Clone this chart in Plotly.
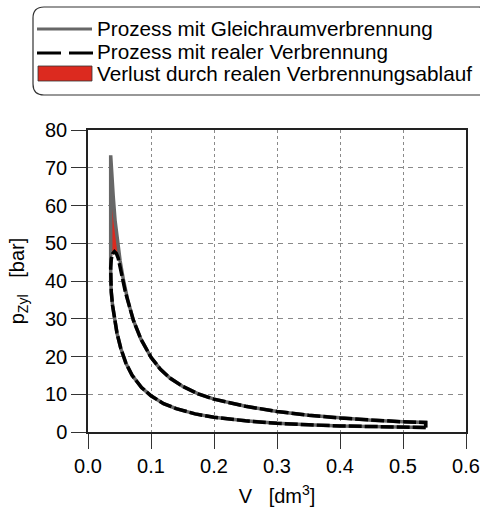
import plotly.graph_objects as go

# ---- data ----
# compression (shared by both processes), from BDC to TDC
comp_V = [0.536, 0.50, 0.45, 0.40, 0.35, 0.30, 0.25, 0.20, 0.17, 0.14, 0.12, 0.10,
          0.085, 0.07, 0.06, 0.052, 0.046, 0.042, 0.039, 0.037, 0.036]
comp_p = [1.2, 1.25, 1.4, 1.6, 1.9, 2.3, 2.95, 3.9, 4.8, 6.2, 7.5, 9.6,
          11.8, 15.0, 18.3, 22.2, 26.2, 30.0, 33.5, 37.0, 40.0]

# expansion of the constant-volume process (after instantaneous heat release at TDC)
gl_V = [0.036, 0.038, 0.040, 0.043, 0.047, 0.051, 0.056, 0.063, 0.072, 0.084, 0.10,
        0.115, 0.13, 0.15, 0.175, 0.20, 0.25, 0.30, 0.35, 0.40, 0.45, 0.50, 0.536]
gl_p = [73.3, 67.0, 62.5, 56.0, 50.0, 45.3, 40.5, 35.0, 29.6, 24.6, 19.8,
        16.6, 14.3, 12.1, 10.1, 8.7, 6.8, 5.45, 4.45, 3.7, 3.1, 2.7, 2.5]

# real combustion around TDC, until it merges with the constant-volume expansion
real_V = [0.036, 0.037, 0.039, 0.042, 0.045, 0.048, 0.051, 0.055, 0.059, 0.063]
real_p = [43.5, 45.8, 47.2, 47.8, 47.3, 46.0, 44.0, 40.5, 37.3, 35.0]

# ---- closed cycles ----
merge_i = gl_V.index(0.063)
gleich_x = comp_V + gl_V + [comp_V[0]]
gleich_y = comp_p + gl_p + [comp_p[0]]
real_x = comp_V + real_V + gl_V[merge_i + 1:] + [comp_V[0]]
real_y = comp_p + real_p + gl_p[merge_i + 1:] + [comp_p[0]]
loss_x = [real_V[0]] + gl_V[:merge_i + 1] + real_V[::-1]
loss_y = [real_p[0]] + gl_p[:merge_i + 1] + real_p[::-1]

FONT = "Liberation Sans, Arial, sans-serif"
FS = 20
RED = "#dc2a1f"
GRAY = "#676767"

fig = go.Figure()
fig.add_trace(go.Scatter(x=loss_x, y=loss_y, mode="lines", fill="toself",
                         fillcolor=RED, line=dict(width=0, color=RED),
                         name="Verlust durch realen Verbrennungsablauf", showlegend=False))
fig.add_trace(go.Scatter(x=gleich_x, y=gleich_y, mode="lines",
                         line=dict(color=GRAY, width=3.5),
                         name="Prozess mit Gleichraumverbrennung", showlegend=False))
fig.add_trace(go.Scatter(x=real_x, y=real_y, mode="lines",
                         line=dict(color="black", width=3.5, dash="13px,3px"),
                         name="Prozess mit realer Verbrennung", showlegend=False))

# ---- manual legend (rounded box) ----
L, R, T, B = 88, 466, 130, 432
def px(x):
    return (x - L) / (R - L)
def py(y):
    return (B - y) / (B - T)

x0, x1, y0, y1 = px(33), px(490), py(95), py(7)
rx, ry = 11 / (R - L), 11 / (B - T)
path = (f"M {x0+rx},{y1} L {x1-rx},{y1} Q {x1},{y1} {x1},{y1-ry} L {x1},{y0+ry} "
        f"Q {x1},{y0} {x1-rx},{y0} L {x0+rx},{y0} Q {x0},{y0} {x0},{y0+ry} "
        f"L {x0},{y1-ry} Q {x0},{y1} {x0+rx},{y1} Z")
fig.add_shape(type="path", path=path, xref="paper", yref="paper",
              line=dict(color="#333333", width=1.2), fillcolor="white", layer="above")
fig.add_shape(type="line", xref="paper", yref="paper", x0=px(37), x1=px(92),
              y0=py(29), y1=py(29), line=dict(color=GRAY, width=3), layer="above")
fig.add_shape(type="line", xref="paper", yref="paper", x0=px(37), x1=px(93),
              y0=py(53), y1=py(53), line=dict(color="black", width=3, dash="24px,8px"),
              layer="above")
fig.add_shape(type="rect", xref="paper", yref="paper", x0=px(38), x1=px(92),
              y0=py(81), y1=py(66), line=dict(color="#333333", width=0.8),
              fillcolor=RED, layer="above")
legend_texts = ["Prozess mit Gleichraumverbrennung",
                "Prozess mit realer Verbrennung",
                "Verlust durch realen Verbrennungsablauf"]
for txt, yy in zip(legend_texts, [28, 51, 74]):
    fig.add_annotation(text=txt, xref="paper", yref="paper", x=px(95), y=py(yy),
                       xanchor="left", yanchor="middle", showarrow=False,
                       font=dict(family=FONT, size=20.7, color="black"))

axis_common = dict(showline=True, linecolor="#222222", linewidth=1.5, mirror=True,
                   ticks="outside", ticklen=15, tickwidth=1.2, tickcolor="#333333",
                   showgrid=True, gridcolor="#8a8a8a", gridwidth=1, automargin=False,
                   zeroline=False, tickfont=dict(family=FONT, size=FS, color="black"))

fig.update_xaxes(range=[0, 0.6], dtick=0.1, tick0=0, tickformat=".1f",
                 griddash="3px,3px",
                 title=dict(text="V\u00a0\u00a0\u00a0[dm<sup>3</sup>]",
                            font=dict(family=FONT, size=FS, color="black")),
                 **axis_common)
fig.update_yaxes(range=[0, 80], dtick=10, tick0=0, griddash="5px,5px",
                 title=dict(text="p<sub>Zyl</sub>\u00a0\u00a0\u00a0[bar]",
                            font=dict(family=FONT, size=FS, color="black")),
                 **axis_common)

fig.update_layout(width=480, height=507, margin=dict(l=L, r=480 - R, t=T, b=507 - B),
                  plot_bgcolor="white", paper_bgcolor="white", showlegend=False,
                  font=dict(family=FONT, size=FS, color="black"))

fig.write_html("out.html", config={"displayModeBar": False},
               post_script="document.body.style.margin='0';")
